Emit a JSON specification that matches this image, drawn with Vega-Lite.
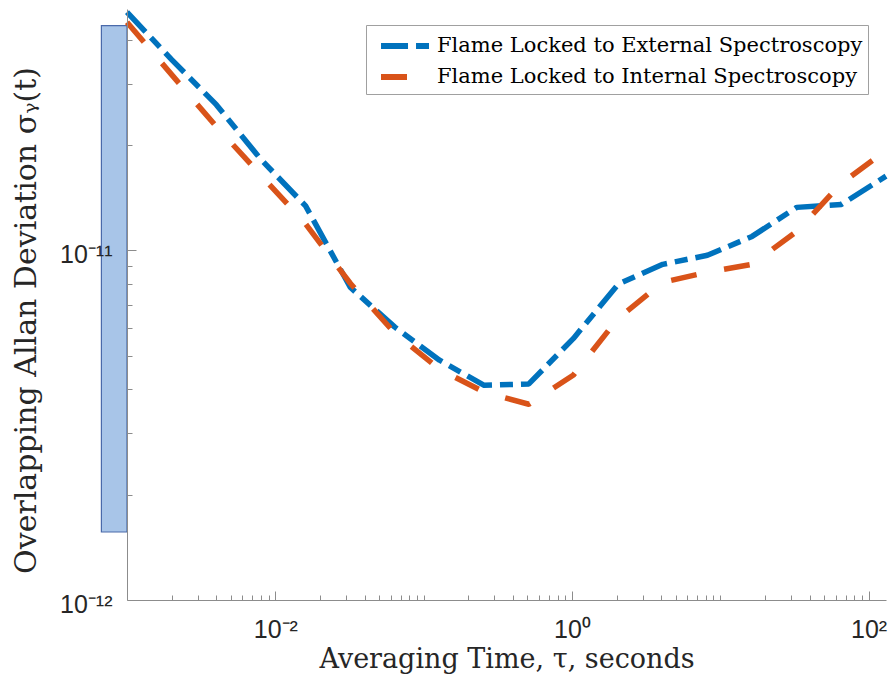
{
  "$schema": "https://vega.github.io/schema/vega-lite/v6.json",
  "width": 759,
  "height": 591,
  "autosize": {"type": "none"},
  "padding": {"left": 127, "top": 9, "right": 5, "bottom": 87},
  "background": "white",
  "config": {
    "view": {"stroke": null},
    "axis": {
      "grid": false,
      "domainColor": "#8c8c8c",
      "tickColor": "#8c8c8c",
      "labelColor": "#262626",
      "labelFont": "Liberation Sans",
      "labelFontSize": 25,
      "titleFont": "DejaVu Serif",
      "titleFontWeight": "normal",
      "titleColor": "#262626"
    }
  },
  "datasets": {
    "curves": [
      {"tau": 0.001, "adev": 4.80e-11, "series": "Flame Locked to External Spectroscopy"},
      {"tau": 0.002, "adev": 3.51e-11, "series": "Flame Locked to External Spectroscopy"},
      {"tau": 0.004, "adev": 2.61e-11, "series": "Flame Locked to External Spectroscopy"},
      {"tau": 0.008, "adev": 1.82e-11, "series": "Flame Locked to External Spectroscopy"},
      {"tau": 0.016, "adev": 1.34e-11, "series": "Flame Locked to External Spectroscopy"},
      {"tau": 0.032, "adev": 7.84e-12, "series": "Flame Locked to External Spectroscopy"},
      {"tau": 0.064, "adev": 6.03e-12, "series": "Flame Locked to External Spectroscopy"},
      {"tau": 0.128, "adev": 4.85e-12, "series": "Flame Locked to External Spectroscopy"},
      {"tau": 0.256, "adev": 4.11e-12, "series": "Flame Locked to External Spectroscopy"},
      {"tau": 0.512, "adev": 4.15e-12, "series": "Flame Locked to External Spectroscopy"},
      {"tau": 1.024, "adev": 5.6e-12, "series": "Flame Locked to External Spectroscopy"},
      {"tau": 2.048, "adev": 8.0e-12, "series": "Flame Locked to External Spectroscopy"},
      {"tau": 4.096, "adev": 9.12e-12, "series": "Flame Locked to External Spectroscopy"},
      {"tau": 8.192, "adev": 9.68e-12, "series": "Flame Locked to External Spectroscopy"},
      {"tau": 16.384, "adev": 1.096e-11, "series": "Flame Locked to External Spectroscopy"},
      {"tau": 32.768, "adev": 1.327e-11, "series": "Flame Locked to External Spectroscopy"},
      {"tau": 65.536, "adev": 1.353e-11, "series": "Flame Locked to External Spectroscopy"},
      {"tau": 131.072, "adev": 1.63e-11, "series": "Flame Locked to External Spectroscopy"},
      {"tau": 0.001, "adev": 4.49e-11, "series": "Flame Locked to Internal Spectroscopy"},
      {"tau": 0.002, "adev": 3.18e-11, "series": "Flame Locked to Internal Spectroscopy"},
      {"tau": 0.004, "adev": 2.26e-11, "series": "Flame Locked to Internal Spectroscopy"},
      {"tau": 0.008, "adev": 1.64e-11, "series": "Flame Locked to Internal Spectroscopy"},
      {"tau": 0.016, "adev": 1.19e-11, "series": "Flame Locked to Internal Spectroscopy"},
      {"tau": 0.032, "adev": 8.05e-12, "series": "Flame Locked to Internal Spectroscopy"},
      {"tau": 0.064, "adev": 5.79e-12, "series": "Flame Locked to Internal Spectroscopy"},
      {"tau": 0.128, "adev": 4.57e-12, "series": "Flame Locked to Internal Spectroscopy"},
      {"tau": 0.256, "adev": 3.93e-12, "series": "Flame Locked to Internal Spectroscopy"},
      {"tau": 0.512, "adev": 3.63e-12, "series": "Flame Locked to Internal Spectroscopy"},
      {"tau": 1.024, "adev": 4.40e-12, "series": "Flame Locked to Internal Spectroscopy"},
      {"tau": 2.048, "adev": 6.39e-12, "series": "Flame Locked to Internal Spectroscopy"},
      {"tau": 4.096, "adev": 8.1e-12, "series": "Flame Locked to Internal Spectroscopy"},
      {"tau": 8.192, "adev": 8.66e-12, "series": "Flame Locked to Internal Spectroscopy"},
      {"tau": 16.384, "adev": 9.12e-12, "series": "Flame Locked to Internal Spectroscopy"},
      {"tau": 32.768, "adev": 1.133e-11, "series": "Flame Locked to Internal Spectroscopy"},
      {"tau": 65.536, "adev": 1.554e-11, "series": "Flame Locked to Internal Spectroscopy"},
      {"tau": 131.072, "adev": 1.93e-11, "series": "Flame Locked to Internal Spectroscopy"}
    ],
    "band": [
      {"tau": 0.000672, "tau2": 0.001, "adev": 1.565e-12, "adev2": 4.39e-11}
    ]
  },
  "layer": [
    {
      "data": {"name": "band"},
      "mark": {"type": "rect", "fill": "#a8c5e8", "stroke": "#4a6aaa", "strokeWidth": 1.2, "clip": false},
      "encoding": {
        "x": {"field": "tau", "type": "quantitative", "scale": {"type": "log", "domain": [0.001, 131.072], "nice": false}},
        "x2": {"field": "tau2"},
        "y": {"field": "adev", "type": "quantitative", "scale": {"type": "log", "domain": [1e-12, 4.9e-11], "nice": false}},
        "y2": {"field": "adev2"}
      }
    },
    {
      "data": {"name": "curves"},
      "mark": {"type": "line", "strokeWidth": 5.5, "strokeCap": "butt", "strokeJoin": "round"},
      "encoding": {
        "x": {
          "field": "tau", "type": "quantitative",
          "scale": {"type": "log", "domain": [0.001, 131.072], "nice": false},
          "axis": {
            "zindex": 2,
            "title": "Averaging Time, τ, seconds",
            "titleFontSize": 27,
            "titlePadding": 0,
            "values": [0.002,0.003,0.004,0.005,0.006,0.007,0.008,0.009,0.01,0.02,0.03,0.04,0.05,0.06,0.07,0.08,0.09,0.1,0.2,0.3,0.4,0.5,0.6,0.7,0.8,0.9,1,2,3,4,5,6,7,8,9,10,20,30,40,50,60,70,80,90,100],
            "labelExpr": "datum.value == 0.01 ? '10⁻²' : datum.value == 1 ? '10⁰' : datum.value == 100 ? '10²' : ''",
            "tickSize": {"condition": {"test": "datum.value == 0.01 || datum.value == 1 || datum.value == 100", "value": -9}, "value": -5},
            "labelPadding": 26,
            "labelFlush": false,
            "labelOverlap": false
          }
        },
        "y": {
          "field": "adev", "type": "quantitative",
          "scale": {"type": "log", "domain": [1e-12, 4.9e-11], "nice": false},
          "axis": {
            "zindex": 2,
            "title": "Overlapping Allan Deviation σᵧ(t)",
            "titleFontSize": 30,
            "titlePadding": 18,
            "titleY": 311,
            "values": [1e-12,2e-12,3e-12,4e-12,5e-12,6e-12,7e-12,8e-12,9e-12,1e-11,2e-11,3e-11,4e-11],
            "labelExpr": "datum.value == 1e-12 ? '10⁻¹²' : datum.value == 1e-11 ? '10⁻¹¹' : ''",
            "tickSize": {"condition": {"test": "datum.value == 1e-12 || datum.value == 1e-11", "value": -9}, "value": -5},
            "labelPadding": 24,
            "labelOffset": 4,
            "labelFlush": false,
            "labelOverlap": false
          }
        },
        "color": {
          "field": "series", "type": "nominal",
          "scale": {"domain": ["Flame Locked to External Spectroscopy", "Flame Locked to Internal Spectroscopy"], "range": ["#0072BD", "#D95319"]},
          "legend": {
            "title": null,
            "orient": "none",
            "legendX": 239,
            "legendY": 16,
            "direction": "vertical",
            "fillColor": "white",
            "strokeColor": "#a0a0a0",
            "padding": 5,
            "symbolType": "M-0.46,0H3.54",
            "symbolSize": 676,
            "symbolStrokeWidth": 6,
            "labelFont": "DejaVu Serif",
            "labelFontSize": 21,
            "labelColor": "black",
            "labelLimit": 0,
            "labelOffset": 34,
            "rowPadding": 3
          }
        },
        "strokeDash": {
          "field": "series", "type": "nominal",
          "scale": {"domain": ["Flame Locked to External Spectroscopy", "Flame Locked to Internal Spectroscopy"], "range": [[27, 8, 13, 8], [26, 28]]},
          "legend": null
        }
      }
    }
  ]
}
